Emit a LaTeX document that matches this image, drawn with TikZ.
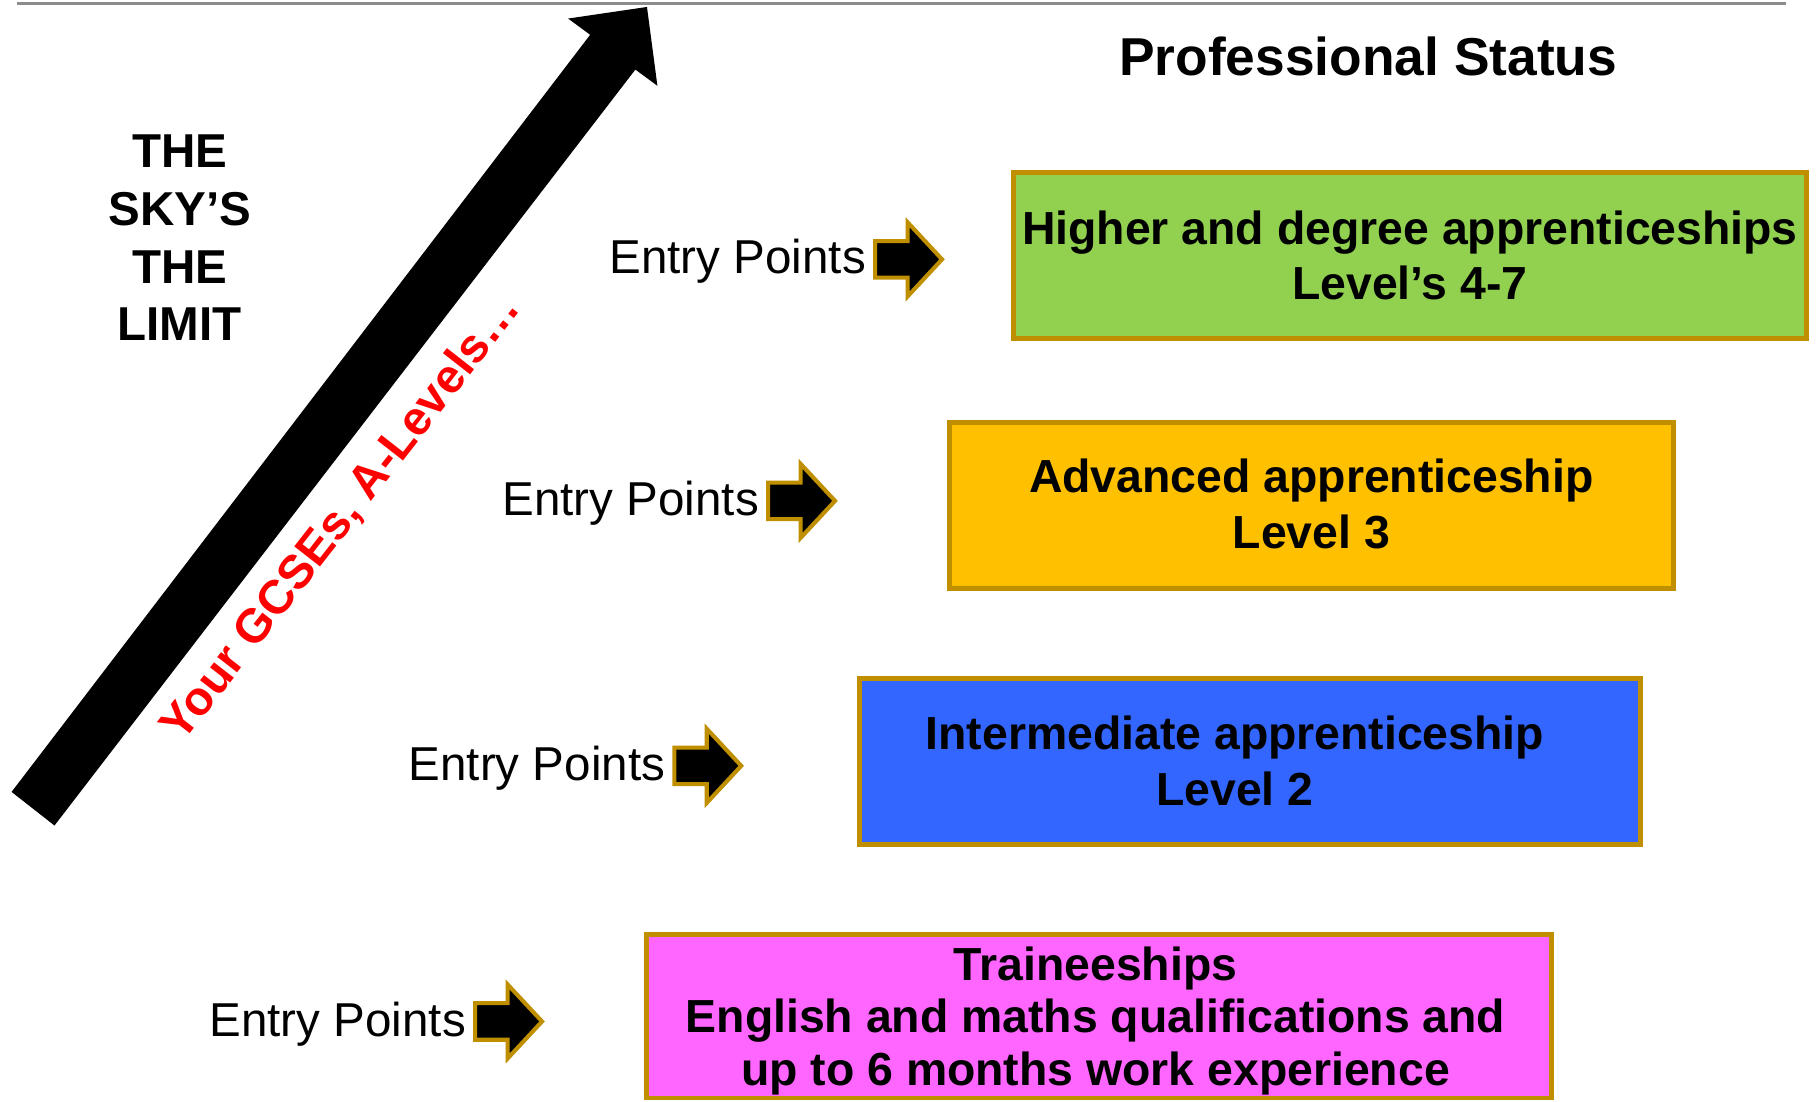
\documentclass[tikz,border=0pt]{standalone}
\usepackage{fontspec}
\setmainfont{Liberation Sans}
\usetikzlibrary{positioning}

\definecolor{lvgreen}{HTML}{92D050}
\definecolor{lvorange}{HTML}{FFC000}
\definecolor{lvblue}{HTML}{3366FF}
\definecolor{lvpink}{HTML}{FF66FF}
\definecolor{lvgold}{HTML}{BF8F00}
\definecolor{lvrule}{HTML}{8C8C8C}

\tikzset{
  levelbox/.style={draw=lvgold, line width=4.3pt, inner sep=0pt},
  boxtext/.style={align=center, inner sep=0pt, font=\bfseries\fontsize{40}{48}\selectfont},
  entrytext/.style={inner sep=0pt, font=\fontsize{41}{49}\selectfont},
  entryarrow/.style={draw=lvgold, fill=black, line width=3.5pt},
}

\begin{document}
\begin{tikzpicture}[x=1pt,y=-1pt]

 \useasboundingbox (0,0) rectangle (1568,950);
 \clip (0,0) rectangle (1568,950);

 % rule along the top
 \draw[line width=1.8pt, lvrule] (15,3) -- (1540,3);

 % the big arrow
 \fill (10,683) -- (47,712) -- (548,60) -- (567,74) -- (558,6) -- (490,16) -- (509,30) -- cycle;

 \node[red, rotate=52, anchor=base, inner sep=0pt, font=\bfseries\fontsize{41}{48}\selectfont] (gcse) at (304,454) {Your GCSEs, A-Levels…};

 \node[align=center, inner sep=0pt, font=\bfseries\fontsize{41}{50}\selectfont] (sky) at (155,205) {THE\\SKY’S\\THE\\LIMIT};

 \node[anchor=base, inner sep=0pt, font=\bfseries\fontsize{46}{55}\selectfont] (status) at (1180,65) {Professional Status};

 % level boxes
 \node[levelbox, fill=lvgreen, minimum width=684pt, minimum height=143pt] (higher) at (1216,220.3) {};
 \node[levelbox, fill=lvorange, minimum width=624pt, minimum height=143.5pt] (advanced) at (1131,435.75) {};
 \node[levelbox, fill=lvblue, minimum width=673.5pt, minimum height=143pt] (intermediate) at (1077.75,656.5) {};
 \node[levelbox, fill=lvpink, minimum width=780.3pt, minimum height=141pt] (trainee) at (947.85,876.5) {};

 \node[boxtext] (highertext) at (higher) {Higher and degree apprenticeships\\Level’s 4-7};
 \node[boxtext, yshift=1pt] (advancedtext) at (advanced) {Advanced apprenticeship\\Level 3};
 \node[boxtext, xshift=-12.7pt] (intermediatetext) at (intermediate) {Intermediate apprenticeship\\Level 2};
 \node[boxtext, font=\bfseries\fontsize{40}{45}\selectfont, xshift=-3pt, yshift=-4pt] (traineetext) at (trainee) {Traineeships\\English and maths qualifications and\\up to 6 months work experience};

 % entry points
 \foreach \n/\x/\y in {1/753/223.7, 2/660.7/432, 3/579.8/660.5, 4/408/881}{%
   \coordinate (ep\n) at (\x,\y);
   \node[entrytext, left=6pt of ep\n, yshift=-2pt] (entry\n) {Entry Points};
   \draw[entryarrow] (ep\n) ++(1.75,-15.75) -- ++(28,0) -- ++(0,-16.25) -- ++(29.75,32) -- ++(-29.75,32) -- ++(0,-16.25) -- ++(-28,0) -- cycle;
 }

\end{tikzpicture}
\end{document}
